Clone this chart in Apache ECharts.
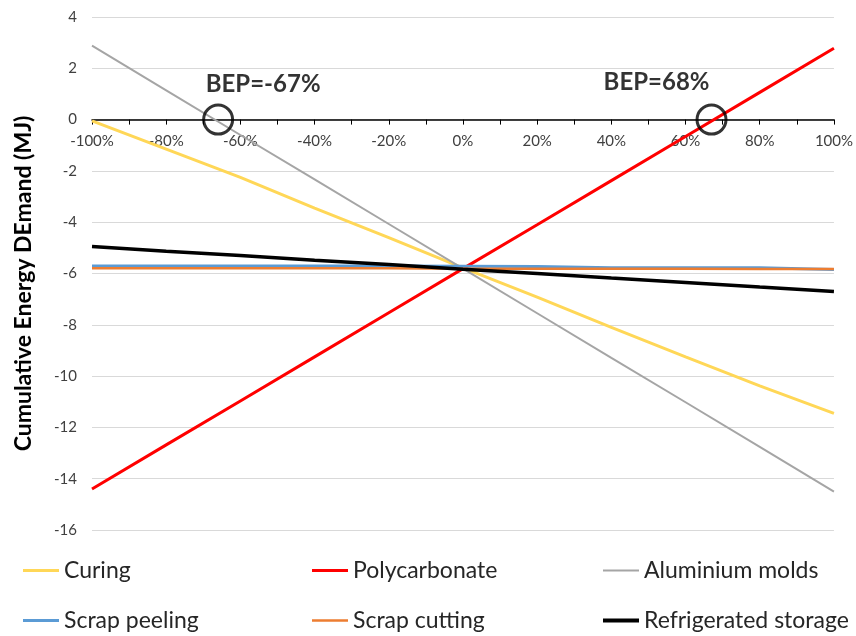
<!DOCTYPE html>
<html>
<head>
<meta charset="utf-8">
<script src="https://cdn.jsdelivr.net/npm/echarts@6/dist/echarts.min.js"></script>
<style>html,body{margin:0;padding:0;background:#fff;}#c{width:856px;height:636px;}</style>
</head>
<body>
<div id="c"></div>
<script>
// ---- data ----
const xValues = [-100, -80, -60, -40, -20, 0, 20, 40, 60, 80, 100];
const curing = [-0.05, -1.15, -2.25, -3.45, -4.6, -5.78, -6.92, -8.1, -9.25, -10.38, -11.45];
const polycarbonate = [-14.4, -12.68, -10.97, -9.25, -7.53, -5.81, -4.1, -2.38, -0.66, 1.06, 2.78];
const aluminium = [2.88, 1.14, -0.6, -2.33, -4.07, -5.81, -7.55, -9.29, -11.02, -12.76, -14.5];
const scrapPeeling = [-5.71, -5.71, -5.71, -5.71, -5.71, -5.72, -5.73, -5.78, -5.78, -5.78, -5.84];
const scrapCutting = [-5.80, -5.80, -5.80, -5.80, -5.80, -5.81, -5.81, -5.81, -5.81, -5.82, -5.82];
const refrigerated = [-4.95, -5.13, -5.3, -5.48, -5.65, -5.83, -6.0, -6.18, -6.35, -6.53, -6.7];
const seriesNames = ['Curing', 'Polycarbonate', 'Aluminium molds', 'Scrap peeling', 'Scrap cutting', 'Refrigerated storage'];
const bepX = [-66, 67];
const bepY = [0, 0];
const bepLabels = ['BEP=-67%', 'BEP=68%'];
const yTicks = {min: -16, max: 4, interval: 2};
const xTicks = {min: -100, max: 100, interval: 20};

// ---- build ----
const FONT = 'Lato, "Liberation Sans", sans-serif';
const seriesData = [curing, polycarbonate, aluminium, scrapPeeling, scrapCutting, refrigerated];
const colors = ['#FFD757', '#FF0000', '#A5A5A5', '#5B9BD5', '#ED7D31', '#000000'];
const widths = [3, 3, 2, 3, 2.5, 3.5];

const pair = arr => xValues.map((x, i) => [x, arr[i]]);

const series = seriesData.map((d, i) => ({
  name: seriesNames[i],
  type: 'line',
  data: pair(d),
  showSymbol: false,
  symbol: 'none',
  lineStyle: {color: colors[i], width: widths[i]},
  itemStyle: {color: colors[i]},
  animation: false,
  z: 2 + i
}));

const labelOffsets = [[45, -35], [-55, -37]];
series.push({
  name: 'BEP',
  type: 'scatter',
  symbol: 'circle',
  symbolSize: 29,
  itemStyle: {color: 'rgba(0,0,0,0)', borderColor: '#000', borderWidth: 3},
  data: bepX.map((x, i) => ({
    value: [x, bepY[i]],
    label: {
      show: true,
      position: 'inside',
      offset: labelOffsets[i],
      formatter: bepLabels[i],
      fontFamily: FONT,
      fontWeight: 'bold',
      fontSize: 24,
      color: '#000'
    }
  })),
  animation: false,
  z: 20
});

const legendPos = [[23, 559], [312, 559], [603, 559], [23, 609], [312, 609], [603, 609]];
const legendH = [3, 3, 2, 3, 2.5, 4];
const legends = seriesNames.map((n, i) => ({
  data: [n],
  left: legendPos[i][0],
  top: legendPos[i][1],
  padding: 0,
  icon: 'rect',
  itemWidth: 36,
  itemHeight: legendH[i],
  selectedMode: false,
  textStyle: {fontFamily: FONT, fontSize: 23, color: '#262626'}
}));

// grid geometry; the x axis sits on y = 0
const gridTop = 17, gridBottom = 106, chartH = 636;
const plotH = chartH - gridTop - gridBottom;
const xAxisOffset = -plotH * (0 - yTicks.min) / (yTicks.max - yTicks.min);

const chart = echarts.init(document.getElementById('c'), null, {renderer: 'canvas'});
chart.setOption({
  backgroundColor: '#fff',
  animation: false,
  grid: {left: 92, right: 21, top: gridTop, bottom: gridBottom, containLabel: false},
  legend: legends,
  xAxis: {
    type: 'value',
    min: xTicks.min, max: xTicks.max, interval: xTicks.interval,
    position: 'bottom',
    offset: xAxisOffset,
    axisLine: {show: true, onZero: false, lineStyle: {color: '#000', width: 1.5}},
    axisTick: {show: true, length: 5, lineStyle: {color: '#000'}},
    minorTick: {show: true, splitNumber: 2, length: 5, lineStyle: {color: '#000'}},
    splitLine: {show: false},
    axisLabel: {formatter: '{value}%', fontFamily: FONT, fontSize: 15, color: '#404040', margin: 14}
  },
  yAxis: {
    type: 'value',
    min: yTicks.min, max: yTicks.max, interval: yTicks.interval,
    name: 'Cumulative Energy DEmand (MJ)',
    nameLocation: 'middle',
    nameGap: 57,
    nameTextStyle: {fontFamily: FONT, fontSize: 23, fontWeight: 'bold', color: '#000', padding: [0, 20, 0, 0]},
    axisLine: {show: false},
    axisTick: {show: false},
    splitLine: {show: true, lineStyle: {color: '#D9D9D9', width: 1}},
    axisLabel: {fontFamily: FONT, fontSize: 15, color: '#404040', margin: 15}
  },
  series: series
});
</script>
</body>
</html>
